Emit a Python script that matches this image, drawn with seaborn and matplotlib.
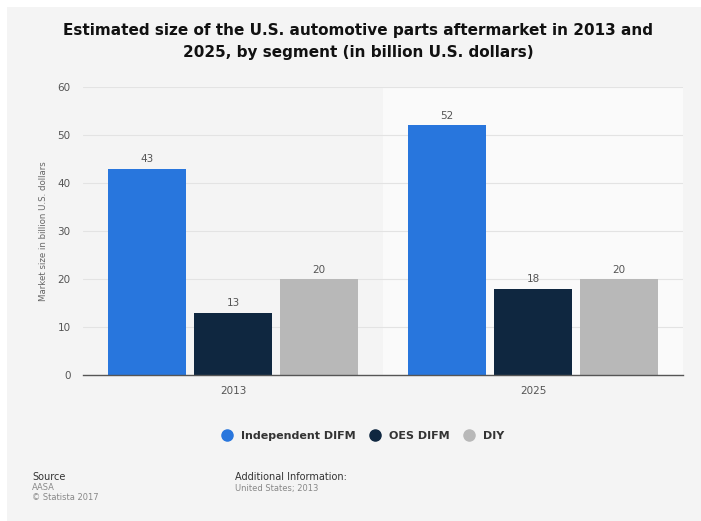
import matplotlib
matplotlib.use("Agg")
import matplotlib.pyplot as plt
from matplotlib.lines import Line2D
from matplotlib.patches import Rectangle
import pandas as pd
import seaborn as sns

years = ["2013", "2025"]
segments = ["Independent DIFM", "OES DIFM", "DIY"]
independent_difm = [43, 52]
oes_difm = [13, 18]
diy = [20, 20]
colors = ["#2876dd", "#0f2740", "#b8b8b8"]

df = pd.DataFrame({
    "year": years * 3,
    "segment": [s for s in segments for _ in years],
    "value": independent_difm + oes_difm + diy,
})

sns.set_theme(style="white")
plt.rcParams["font.family"] = ["DejaVu Sans"]

W, H = 701, 521
BG = "#f4f4f4"
fig = plt.figure(figsize=(W / 100, H / 100), dpi=100, facecolor=BG)
# thin white strips along the top and left edges
fig.patches.append(Rectangle((0, 1 - 7 / H), 1, 7 / H, transform=fig.transFigure,
                             facecolor="white", edgecolor="none", zorder=-5))
fig.patches.append(Rectangle((0, 0), 7 / W, 1, transform=fig.transFigure,
                             facecolor="white", edgecolor="none", zorder=-5))

ax = fig.add_axes([83 / W, 1 - 375 / H, 600 / W, 288 / H])
ax.set_facecolor(BG)
ax.axvspan(0.5, 1.5, color="#fafafa", zorder=0, lw=0)

sns.barplot(data=df, x="year", y="value", hue="segment", hue_order=segments,
            palette=colors, width=0.86, gap=0.1, saturation=1, ax=ax,
            legend=False, zorder=3, linewidth=0, edgecolor="none")

for cont in ax.containers:
    ax.bar_label(cont, fmt="%.0f", padding=3, fontsize=7.5, color="#555555")

ax.set_xlim(-0.5, 1.5)
ax.set_ylim(0, 60)
ax.set_yticks(range(0, 61, 10))
ax.yaxis.grid(True, color="#e3e3e3", lw=0.8, zorder=1)
ax.set_axisbelow(True)
for side in ["top", "right", "left"]:
    ax.spines[side].set_visible(False)
ax.spines["bottom"].set_color("#555555")
ax.spines["bottom"].set_linewidth(1.0)
ax.spines["bottom"].set_zorder(4)
ax.tick_params(axis="both", length=0, labelsize=7.5, labelcolor="#555555")
ax.tick_params(axis="y", pad=9)
ax.tick_params(axis="x", pad=8)
ax.set_xlabel("")
ax.set_ylabel("Market size in billion U.S. dollars", fontsize=6.2, color="#666666", labelpad=7)

fig.text(358 / W, 1 - 30 / H, "Estimated size of the U.S. automotive parts aftermarket in 2013 and",
         ha="center", va="center", fontsize=11, fontweight="bold", color="#111111")
fig.text(358 / W, 1 - 52 / H, "2025, by segment (in billion U.S. dollars)",
         ha="center", va="center", fontsize=11, fontweight="bold", color="#111111")

handles = [Line2D([], [], marker="o", ls="none", markersize=8, markerfacecolor=c,
                  markeredgecolor=c) for c in colors]
fig.legend(handles, segments, loc="center", bbox_to_anchor=(360 / W, 1 - 436 / H),
           ncol=3, frameon=False, handletextpad=0.2, columnspacing=0.8,
           prop={"weight": "bold", "size": 8}, labelcolor="#333333")

fig.text(32 / W, 1 - 477 / H, "Source", fontsize=7, color="#333333", va="center")
fig.text(32 / W, 1 - 488 / H, "AASA", fontsize=6, color="#888888", va="center")
fig.text(32 / W, 1 - 498 / H, "\u00a9 Statista 2017", fontsize=6, color="#888888", va="center")
fig.text(235 / W, 1 - 477 / H, "Additional Information:", fontsize=7, color="#333333", va="center")
fig.text(235 / W, 1 - 488 / H, "United States; 2013", fontsize=6, color="#888888", va="center")

fig.savefig("out.png", dpi=100, facecolor=fig.get_facecolor())
